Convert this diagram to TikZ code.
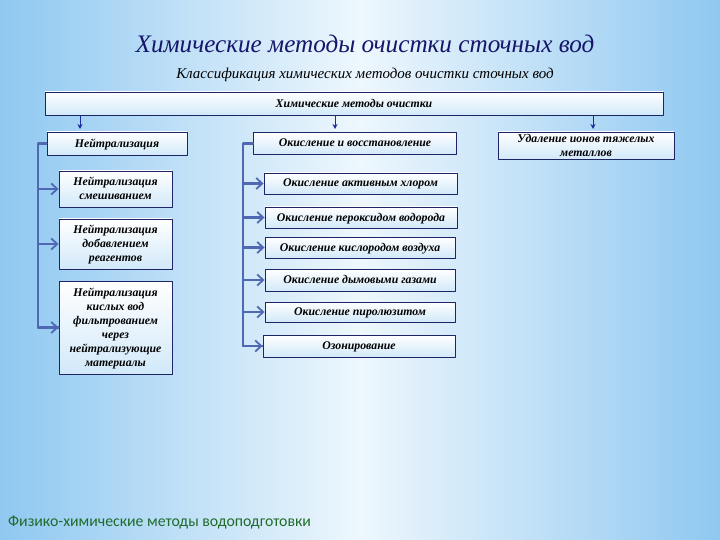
\documentclass[tikz,border=0pt]{standalone}
\usepackage{fontspec}
\setmainfont{Liberation Serif}
\newfontfamily\footfont{Carlito}
\usetikzlibrary{calc,positioning,arrows.meta}
\definecolor{SlideBlue}{HTML}{8FC8F1}
\definecolor{SlideLight}{HTML}{EEF7FD}
\definecolor{TitleNavy}{HTML}{17166A}
\definecolor{BoxNavy}{HTML}{1E2466}
\definecolor{BusBlue}{HTML}{5068B4}
\definecolor{DropBlue}{HTML}{1C2C9E}
\definecolor{FootGreen}{HTML}{1E6B2A}

\begin{document}
\begin{tikzpicture}[x=1pt,y=-1pt,line cap=round,line join=round,
  box/.style={draw=BoxNavy,line width=0.9pt,top color=white,bottom color=SlideLight!70!SlideBlue,
    inner sep=1pt,align=center,text depth=1pt,font=\fontsize{11.8}{14}\selectfont\bfseries\itshape},
  bus/.style={BusBlue,line width=2.2pt},
  feed/.style={bus,-{Straight Barb[length=6pt,width=11pt,line width=1.8pt]}},
  drop/.style={DropBlue,line width=0.8pt,-{Stealth[length=5pt,width=5pt]}}]
  \shade[left color=SlideBlue,right color=SlideBlue,middle color=SlideLight] (0,0) rectangle (720,540);
  \useasboundingbox (0,0) rectangle (720,540);

  \node[TitleNavy,font=\fontsize{25.2}{30}\selectfont\itshape] (title) at (365,44) {Химические методы очистки сточных вод};
  \node[font=\fontsize{15}{18}\selectfont\itshape] (sub) at (365,75) {Классификация химических методов очистки сточных вод};

  \node[box,minimum width=618,minimum height=23] (top) at (354,103.5) {Химические методы очистки};

  \node[box,minimum width=140,minimum height=23] (neut) at (117,143.5) {Нейтрализация};
  \node[box,minimum width=203,minimum height=22] (oxid) at (355,143.5) {Окисление и восстановление};
  \node[box,minimum width=176,minimum height=27] (metal) at (586,145.5) {Удаление ионов тяжелых\\металлов};

  \node[box,minimum width=113,minimum height=36] (mix) at (115.5,189) {Нейтрализация\\смешиванием};
  \node[box,minimum width=113,minimum height=50] (reag) at (115.5,244) {Нейтрализация\\добавлением\\реагентов};
  \node[box,minimum width=113,minimum height=93] (filt) at (115.5,327.5) {Нейтрализация\\кислых вод\\фильтрованием\\через\\нейтрализующие\\материалы};

  \node[box,minimum width=193,minimum height=21] (chlor) at (360.5,183.5) {Окисление активным хлором};
  \node[box,minimum width=192,minimum height=21] (perox) at (361,217.5) {Окисление пероксидом водорода};
  \node[box,minimum width=190,minimum height=21] (air) at (360,247.5) {Окисление кислородом воздуха};
  \node[box,minimum width=190,minimum height=22] (smoke) at (360,280) {Окисление дымовыми газами};
  \node[box,minimum width=190,minimum height=20] (pyro) at (360,312) {Окисление пиролюзитом};
  \node[box,minimum width=192,minimum height=22] (ozone) at (359,346) {Озонирование};

  \coordinate (d1) at (80,129);
  \coordinate (d2) at (335,129);
  \coordinate (d3) at (593,129);
  \draw[drop] (top.south -| d1) -- (d1);
  \draw[drop] (top.south -| d2) -- (d2);
  \draw[drop] (top.south -| d3) -- (d3);

  \coordinate (lbus) at (38,143.5);
  \draw[bus] (neut.west) -- (lbus) |- (filt.west);
  \draw[feed] (mix.west -| lbus) -- (mix.west);
  \draw[feed] (reag.west -| lbus) -- (reag.west);
  \draw[feed] (filt.west -| lbus) -- (filt.west);

  \coordinate (rbus) at (243,143.5);
  \draw[bus] (oxid.west) -- (rbus) |- (ozone.west);
  \foreach \n in {chlor,perox,air,smoke,pyro,ozone}
    \draw[feed] (\n.west -| rbus) -- (\n.west);

  \node[FootGreen,anchor=west,inner sep=0pt,font=\footfont\fontsize{15.8}{18}\selectfont] (foot) at (8,522) {Физико-химические методы водоподготовки};
\end{tikzpicture}
\end{document}
